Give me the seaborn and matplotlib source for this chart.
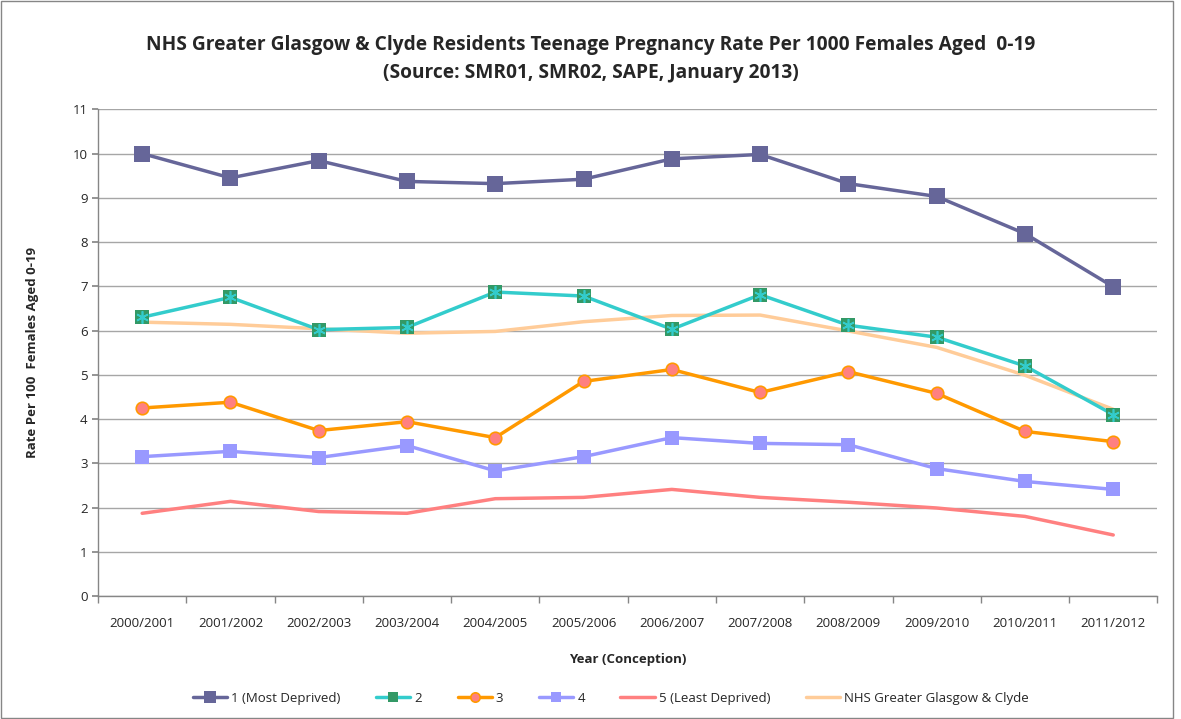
import matplotlib.pyplot as plt
import numpy as np
import seaborn as sns
from matplotlib.patches import Rectangle

sns.set_theme(style="white")
plt.rcParams["font.family"] = ["Open Sans", "DejaVu Sans"]

YEARS = ["2000/2001", "2001/2002", "2002/2003", "2003/2004", "2004/2005", "2005/2006",
         "2006/2007", "2007/2008", "2008/2009", "2009/2010", "2010/2011", "2011/2012"]

q1_most = [10.0, 9.45, 9.84, 9.37, 9.32, 9.42, 9.88, 9.98, 9.32, 9.03, 8.19, 6.99]
q2 = [6.30, 6.75, 6.02, 6.07, 6.87, 6.78, 6.03, 6.81, 6.12, 5.85, 5.20, 4.10]
q3 = [4.25, 4.38, 3.74, 3.94, 3.58, 4.85, 5.12, 4.60, 5.07, 4.58, 3.72, 3.49]
q4 = [3.15, 3.27, 3.13, 3.40, 2.83, 3.15, 3.58, 3.45, 3.42, 2.88, 2.59, 2.41]
q5_least = [1.87, 2.14, 1.91, 1.87, 2.20, 2.23, 2.41, 2.23, 2.12, 1.99, 1.80, 1.38]
nhs_ggc = [6.19, 6.14, 6.04, 5.94, 5.98, 6.20, 6.34, 6.35, 5.99, 5.62, 4.99, 4.22]

x = np.arange(len(YEARS))

fig = plt.figure(figsize=(11.81, 7.19), dpi=100)
ax = fig.add_axes([0.083, 0.171, 0.897, 0.677])

# lines (NHS drawn first so it sits under the quintile 2 line)
sns.lineplot(x=x, y=nhs_ggc, ax=ax, color="#FFCC99", linewidth=2.5,
             label="NHS Greater Glasgow & Clyde", zorder=2)
sns.lineplot(x=x, y=q5_least, ax=ax, color="#FF8080", linewidth=2.5,
             label="5 (Least Deprived)", zorder=3)
sns.lineplot(x=x, y=q4, ax=ax, color="#9999FF", linewidth=2.5, marker="s",
             markersize=10, markeredgewidth=0, label="4", zorder=4)
sns.lineplot(x=x, y=q3, ax=ax, color="#FF9900", linewidth=2.5, marker="o",
             markersize=9, markerfacecolor="#FF8080", markeredgecolor="#FF9900",
             markeredgewidth=1.2, label="3", zorder=5)
sns.lineplot(x=x, y=q2, ax=ax, color="#33CCCC", linewidth=2.5, marker="s",
             markersize=10, markerfacecolor="#339966", markeredgewidth=0,
             label="2", zorder=6)
ax.plot(x, q2, linestyle="none", marker=(6, 2, 0), markersize=9,
        markeredgecolor="#33CCCC", markeredgewidth=1.2, zorder=7)
sns.lineplot(x=x, y=q1_most, ax=ax, color="#666699", linewidth=2.5, marker="s",
             markersize=11, markeredgewidth=0, label="1 (Most Deprived)", zorder=8)

ax.set_xlim(-0.5, len(YEARS) - 0.5)
ax.set_ylim(0, 11)
ax.set_yticks(range(0, 12))
ax.set_xticks(x)
ax.set_xticklabels(YEARS, fontsize=9.5)
ax.tick_params(axis="y", labelsize=9.5, length=4, color="#868686", left=True)
ax.tick_params(axis="x", which="major", length=0, pad=15)
ax.set_xticks(np.arange(-0.5, len(YEARS), 1), minor=True)
ax.tick_params(axis="x", which="minor", length=5, color="#868686", bottom=True)
ax.grid(axis="y", color="#A6A6A6", linewidth=1)
ax.set_axisbelow(True)
for side in ("top", "right"):
    ax.spines[side].set_visible(False)
for side in ("left", "bottom"):
    ax.spines[side].set_color("#868686")
    ax.spines[side].set_linewidth(1)

ax.set_xlabel("Year (Conception)", fontsize=9.5, fontweight="bold", labelpad=17)
ax.set_ylabel("Rate Per 100  Females Aged 0-19", fontsize=9.5, fontweight="bold", labelpad=24)

fig.suptitle("NHS Greater Glasgow & Clyde Residents Teenage Pregnancy Rate Per 1000 Females Aged  0-19\n"
             "(Source: SMR01, SMR02, SAPE, January 2013)",
             fontsize=13.8, fontweight="bold", y=0.952, linespacing=1.55)

handles, labels = ax.get_legend_handles_labels()
order = ["1 (Most Deprived)", "2", "3", "4", "5 (Least Deprived)", "NHS Greater Glasgow & Clyde"]
hmap = dict(zip(labels, handles))
ax.legend([hmap[k] for k in order], order, loc="center", bbox_to_anchor=(0.484, -0.21),
          ncol=6, frameon=False, fontsize=9.5, handlelength=2.6, columnspacing=2.7,
          handletextpad=0.3, markerscale=0.75)

fig.patches.append(Rectangle((0.001, 0.001), 0.992, 0.997, transform=fig.transFigure,
                             fill=False, edgecolor="#868686", linewidth=1))

fig.savefig("out.png", dpi=100)
